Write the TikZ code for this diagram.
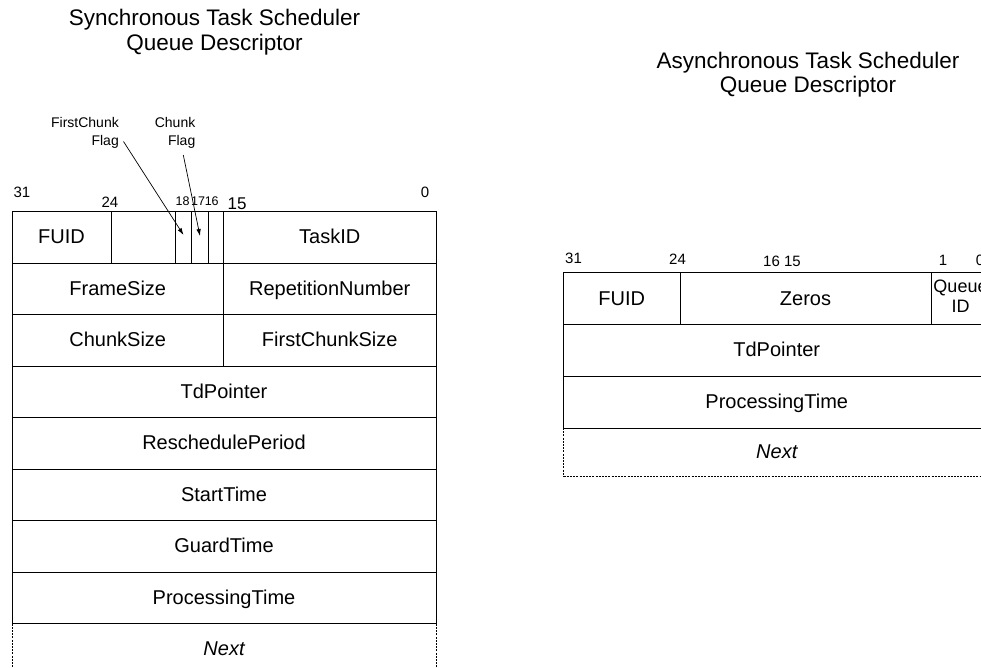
\documentclass[tikz,border=0pt]{standalone}
\usepackage{fontspec}
\setmainfont{Liberation Sans}
\usetikzlibrary{arrows.meta}

\begin{document}
\begin{tikzpicture}[x=1pt,y=-1pt,
  cell/.style={draw=black, line width=0.9pt},
  nextcell/.style={draw=black, line width=0.8pt, dash pattern=on 2pt off 1.2pt},
  lbl/.style={font=\fontsize{20}{23}\selectfont, inner sep=0pt, anchor=base, yshift=-6.5pt},
  bit/.style={font=\fontsize{15}{18}\selectfont, inner sep=0pt, anchor=base},
  smallbit/.style={font=\fontsize{12.5}{15}\selectfont, inner sep=0pt, anchor=base},
  title/.style={font=\fontsize{22.5}{24.5}\selectfont, inner sep=0pt, anchor=north, align=center},
  flaglbl/.style={font=\fontsize{14}{18}\selectfont, inner sep=0pt, anchor=north east, align=right},
  ptr/.style={line width=0.7pt, -{Latex[length=7pt,width=4.5pt]}}
]
\useasboundingbox (0,0) rectangle (981,667);
\clip (0,0) rectangle (981,667);

% ---------------- Synchronous descriptor ----------------
\node[title] (synctitle) at (214.5,9) {Synchronous Task Scheduler\\Queue Descriptor};

% bit positions
\node[bit] (s31) at (22,197) {31};
\node[bit] (s24) at (110,207) {24};
\node[smallbit] (s18) at (182.5,205) {18};
\node[smallbit] (s17) at (198,205) {17};
\node[smallbit] (s16) at (211.7,205) {16};
\node[bit, font=\fontsize{17}{20}\selectfont] (s15) at (237,209) {15};
\node[bit] (s0) at (425,197) {0};

% table frame and row lines
\draw[cell] (12,623.5) -- (12,211.5) -- (436,211.5) -- (436,623.5);
\foreach \y in {263,314.5,366,417.5,469,520.5,572,623.5}
  \draw[cell] (12,\y) -- (436,\y);
\draw[cell] (111,211.5) -- (111,263);
\draw[cell] (175.5,211.5) -- (175.5,263);
\draw[cell] (191,211.5) -- (191,263);
\draw[cell] (208,211.5) -- (208,263);
\draw[cell] (223.5,211.5) -- (223.5,366);
\draw[nextcell] (12,623.5) rectangle (436,675);

% field names
\node[lbl] (sfuid) at (61.5,237.25) {FUID};
\node[lbl] (stask) at (329.75,237.25) {TaskID};
\node[lbl] (sframe) at (117.75,288.75) {FrameSize};
\node[lbl] (srep) at (329.75,288.75) {RepetitionNumber};
\node[lbl] (schunk) at (117.75,340.25) {ChunkSize};
\node[lbl] (sfirst) at (329.75,340.25) {FirstChunkSize};
\node[lbl] (std) at (224,391.75) {TdPointer};
\node[lbl] (sresch) at (224,443.25) {ReschedulePeriod};
\node[lbl] (sstart) at (224,494.75) {StartTime};
\node[lbl] (sguard) at (224,546.25) {GuardTime};
\node[lbl] (sproc) at (224,597.75) {ProcessingTime};
\node[lbl, font=\fontsize{20}{23}\selectfont\itshape] (snext) at (224,649.25) {Next};

% flag callouts
\node[flaglbl] (fcflag) at (119,117.5) {FirstChunk\\Flag};
\node[flaglbl] (cflag) at (195.5,117.5) {Chunk\\Flag};
\coordinate (fcflagtail) at (123.5,141.5);
\coordinate (fcflagbit) at (183.5,235);
\coordinate (cflagtail) at (183.3,155);
\coordinate (cflagbit) at (200,236);
\draw[ptr] (fcflagtail) -- (fcflagbit);
\draw[ptr] (cflagtail) -- (cflagbit);

% ---------------- Asynchronous descriptor ----------------
\node[title] (asynctitle) at (808,51.5) {Asynchronous Task Scheduler\\Queue Descriptor};

\node[bit] (a31) at (573.5,263) {31};
\node[bit] (a24) at (677.5,264) {24};
\node[bit] (a1615) at (782,266) {16 15};
\node[bit] (a1) at (943,265) {1};
\node[bit] (a0) at (980,265) {0};

\draw[cell] (563.5,428) -- (563.5,272.5) -- (990,272.5) -- (990,428);
\foreach \y in {324.5,376,428}
  \draw[cell] (563.5,\y) -- (990,\y);
\draw[cell] (680,272.5) -- (680,324.5);
\draw[cell] (931,272.5) -- (931,324.5);
\draw[nextcell] (563.5,428) rectangle (990,476);

\node[lbl] (afuid) at (621.75,298.5) {FUID};
\node[lbl] (azeros) at (805.5,298.5) {Zeros};
\node[font=\fontsize{18}{19.5}\selectfont, inner sep=0pt, align=center, anchor=north] (aqid) at (960.5,280) {Queue\\ID};
\node[lbl] (atd) at (776.75,350.25) {TdPointer};
\node[lbl] (aproc) at (776.75,402) {ProcessingTime};
\node[lbl, font=\fontsize{20}{23}\selectfont\itshape] (anext) at (776.75,452) {Next};
\end{tikzpicture}
\end{document}
